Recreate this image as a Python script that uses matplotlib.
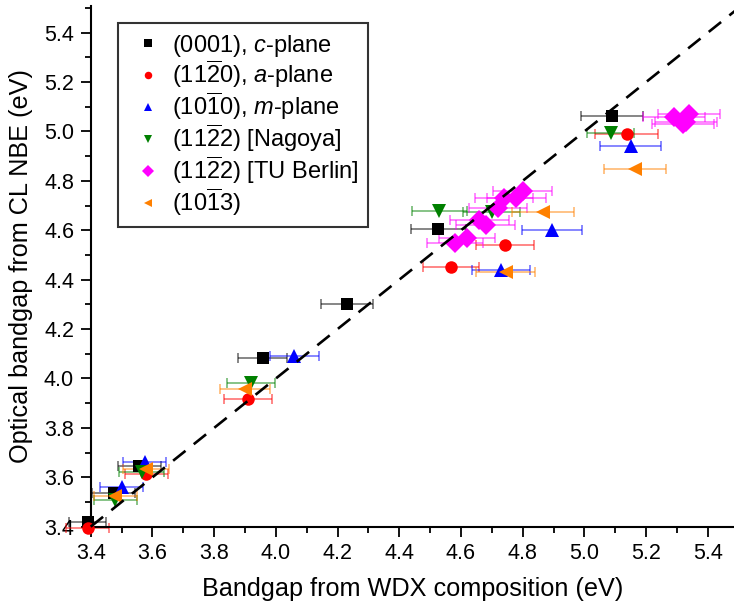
import matplotlib
matplotlib.use("Agg")
import matplotlib.pyplot as plt
from matplotlib.ticker import MultipleLocator, FormatStrFormatter

plt.rcParams["font.family"] = ["Liberation Sans", "DejaVu Sans"]
plt.rcParams["mathtext.fontset"] = "custom"
plt.rcParams["mathtext.rm"] = "Liberation Sans"
plt.rcParams["mathtext.it"] = "Liberation Sans:italic"

# (0001), c-plane
c_x = [3.39, 3.475, 3.558, 3.957, 4.23, 4.527, 5.089]
c_y = [3.42, 3.535, 3.646, 4.084, 4.30, 4.605, 5.064]
c_err = [0.06, 0.07, 0.07, 0.08, 0.084, 0.09, 0.10]

# (11-20), a-plane
a_x = [3.39, 3.58, 3.91, 4.567, 4.743, 5.137]
a_y = [3.393, 3.613, 3.916, 4.453, 4.541, 4.989]
a_err = [0.07, 0.07, 0.077, 0.09, 0.094, 0.103]

# (10-10), m-plane
m_x = [3.50, 3.575, 4.06, 4.73, 4.895, 5.15]
m_y = [3.56, 3.66, 4.09, 4.44, 4.60, 4.94]
m_err = [0.07, 0.07, 0.08, 0.094, 0.098, 0.10]

# (11-22) Nagoya
n_x = [3.48, 3.565, 3.92, 4.53, 4.70, 5.085]
n_y = [3.51, 3.623, 3.98, 4.68, 4.675, 4.993]
n_err = [0.07, 0.074, 0.077, 0.09, 0.092, 0.075]

# (11-22) TU Berlin
b_x = [4.58, 4.62, 4.66, 4.68, 4.72, 4.74, 4.78, 4.80, 5.29, 5.32, 5.34, 5.33]
b_y = [4.55, 4.57, 4.64, 4.62, 4.69, 4.73, 4.73, 4.76, 5.06, 5.03, 5.07, 5.04]
b_err = [0.09, 0.09, 0.095, 0.095, 0.095, 0.095, 0.095, 0.095, 0.10, 0.10, 0.10, 0.10]

# (10-13)
s_x = [3.48, 3.58, 3.90, 4.745, 4.865, 5.165]
s_y = [3.524, 3.634, 3.956, 4.43, 4.675, 4.848]
s_err = [0.07, 0.075, 0.08, 0.095, 0.10, 0.10]

series = [
    (c_x, c_y, c_err, "s", "black", 8.5, r"(0001), $\it{c}$-plane"),
    (a_x, a_y, a_err, "o", "red", 9, r"(11$\overline{\mathrm{2}}$0), $\it{a}$-plane"),
    (m_x, m_y, m_err, "^", "blue", 10, r"(10$\overline{\mathrm{1}}$0), $\it{m}$-plane"),
    (n_x, n_y, n_err, "v", "green", 10, r"(11$\overline{\mathrm{2}}$2) [Nagoya]"),
    (b_x, b_y, b_err, "D", "magenta", 10, r"(11$\overline{\mathrm{2}}$2) [TU Berlin]"),
    (s_x, s_y, s_err, "<", "#ff8000", 10, r"(10$\overline{\mathrm{1}}$3)"),
]

fig = plt.figure(figsize=(7.34, 6.13), dpi=100)
ax = fig.add_axes([0.1236, 0.1408, 0.8764, 0.8494])

handles = []
for x, y, e, mk, col, ms, lab in series:
    ax.errorbar(x, y, xerr=e, fmt="none", ecolor=col, alpha=0.6,
                elinewidth=1.1, capsize=3.8, capthick=1.1, zorder=2,
                clip_on=False)
    h, = ax.plot(x, y, linestyle="none", marker=mk, color=col, ms=ms,
                 markeredgewidth=0, zorder=3, clip_on=False, label=lab)
    handles.append(h)

ax.plot([3.4, 5.5], [3.4, 5.5], color="black", lw=1.9, dashes=(6, 4),
        zorder=4, clip_on=False)

ax.set_xlim(3.4, 5.485)
ax.set_ylim(3.4, 5.508)
ax.xaxis.set_major_locator(MultipleLocator(0.2))
ax.xaxis.set_minor_locator(MultipleLocator(0.1))
ax.yaxis.set_major_locator(MultipleLocator(0.2))
ax.yaxis.set_minor_locator(MultipleLocator(0.1))
ax.xaxis.set_major_formatter(FormatStrFormatter("%.1f"))
ax.yaxis.set_major_formatter(FormatStrFormatter("%.1f"))

for s in ("top", "right"):
    ax.spines[s].set_visible(False)
for s in ("left", "bottom"):
    ax.spines[s].set_linewidth(1.5)

ax.tick_params(which="major", direction="out", length=7, width=1.3,
               labelsize=15.5, pad=5)
ax.tick_params(which="minor", direction="out", length=4, width=1.3)

ax.set_xlabel("Bandgap from WDX composition (eV)", fontsize=18.2, labelpad=9)
ax.set_ylabel("Optical bandgap from CL NBE (eV)", fontsize=18.2, labelpad=8)

leg = ax.legend(handles=handles, loc="upper left",
                bbox_to_anchor=(0.0424, 0.967), borderaxespad=0,
                fontsize=17, markerscale=0.6, frameon=True, fancybox=False,
                edgecolor="black", handlelength=1.7, handletextpad=0.2,
                labelspacing=0.0, borderpad=0.4)
leg.get_frame().set_linewidth(1.5)

fig.savefig("out.png", dpi=100)
